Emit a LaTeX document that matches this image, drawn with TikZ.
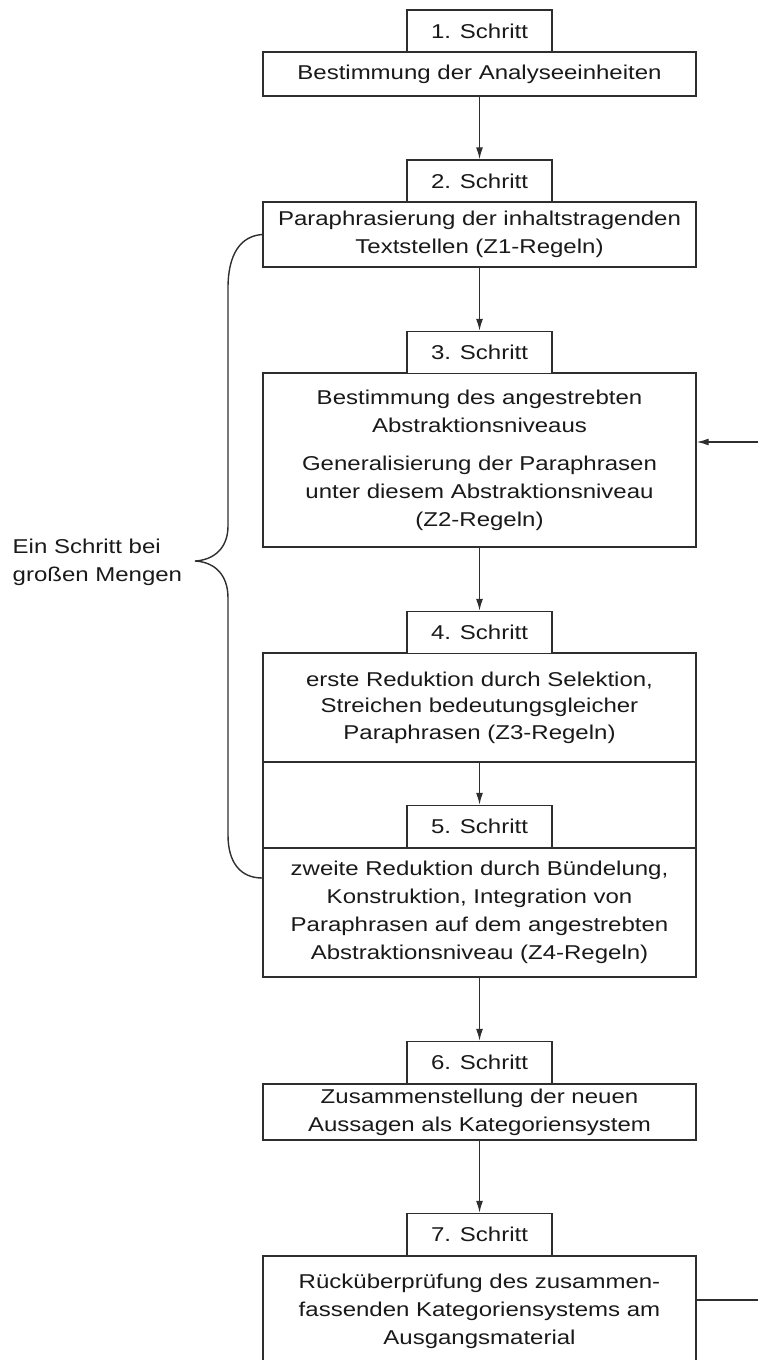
\documentclass[tikz,border=0pt]{standalone}
\usepackage{fontspec}
\setmainfont[FakeStretch=1.2]{Liberation Sans}
\usetikzlibrary{arrows.meta}
\definecolor{ink}{gray}{0.1}
\definecolor{linec}{gray}{0.18}
\begin{document}
\begin{tikzpicture}[x=1pt,y=-1pt,
  line width=1.4pt,
  every node/.style={font=\fontsize{20}{28}\selectfont, text=ink},
  mainbox/.style={draw=linec, inner sep=0pt, minimum width=433pt, text width=425pt, align=center},
  stepbox/.style={draw=linec, fill=white, inner sep=0pt, minimum width=145pt, minimum height=42pt},
  flow/.style={draw=linec, -{Latex[length=12pt,width=7pt]}},
  link/.style={draw=linec},
]
\useasboundingbox (0,0) rectangle (758,1360);
\clip (0,0) rectangle (758,1360);

% step 1
\node[mainbox, minimum height=44pt] (b1) at (479.5,74) {Bestimmung der Analyseeinheiten};
\node[stepbox] (t1) at (479.5,31) {1. Schritt};

% step 2
\node[mainbox, minimum height=65pt] (b2) at (479.5,234.5) {Paraphrasierung der inhaltstragenden\\Textstellen (Z1-Regeln)};
\node[stepbox] (t2) at (479.5,181) {2. Schritt};

% step 3
\node[mainbox, minimum height=174pt] (b3) at (479.5,460) {Bestimmung des angestrebten\\Abstraktionsniveaus\\[10pt]Generalisierung der Paraphrasen\\unter diesem Abstraktionsniveau\\(Z2-Regeln)};
\node[stepbox] (t3) at (479.5,352.5) {3. Schritt};

% steps 4 and 5 share one frame
\node[mainbox, minimum height=109pt, font=\fontsize{20}{26.5}\selectfont] (b4) at (479.5,707.5) {erste Reduktion durch Selektion,\\Streichen bedeutungsgleicher\\Paraphrasen (Z3-Regeln)};
\node[stepbox] (t4) at (479.5,632.5) {4. Schritt};
\node[mainbox, minimum height=86pt] (g5) at (479.5,805) {};
\node[stepbox] (t5) at (479.5,826.5) {5. Schritt};
\node[mainbox, minimum height=129pt] (b5) at (479.5,912.5) {zweite Reduktion durch Bündelung,\\Konstruktion, Integration von\\Paraphrasen auf dem angestrebten\\Abstraktionsniveau (Z4-Regeln)};

% step 6
\node[mainbox, minimum height=56pt] (b6) at (479.5,1112) {Zusammenstellung der neuen\\Aussagen als Kategoriensystem};
\node[stepbox] (t6) at (479.5,1062.5) {6. Schritt};

% step 7
\node[mainbox, minimum height=110pt] (b7) at (479.5,1311) {Rücküberprüfung des zusammen-\\fassenden Kategoriensystems am\\Ausgangsmaterial};
\node[stepbox] (t7) at (479.5,1234.5) {7. Schritt};

% main flow
\draw[flow] (b1.south) -- (t2.north);
\draw[flow] (b2.south) -- (t3.north);
\draw[flow] (b3.south) -- (t4.north);
\draw[flow] (b4.south) -- (t5.north);
\draw[flow] (b5.south) -- (t6.north);
\draw[flow] (b6.south) -- (t7.north);

% feedback loop from step 7 back to step 3
\coordinate (fb3) at (758,442);
\coordinate (fb7) at (758,1300);
\draw[flow] (fb3) -- (fb3 -| b3.east);
\draw[link] (b7.east |- fb7) -- (fb7);

% brace grouping steps 2 to 5
\coordinate (tip) at (195,561);
\coordinate (h878) at (0,878);
\coordinate (bb) at (b5.west |- h878);
\draw[link] (b2.west) .. controls (240,236) and (228,255) .. (228,288) -- (228,526)
  .. controls (228,548) and (214,560) .. (tip)
  .. controls (214,562) and (228,574) .. (228,598) -- (228,835)
  .. controls (228,862) and (240,878) .. (bb);
\node[anchor=west, align=left, inner sep=0pt] (lbl) at (12,562) {Ein Schritt bei\\großen Mengen};
\end{tikzpicture}
\end{document}
